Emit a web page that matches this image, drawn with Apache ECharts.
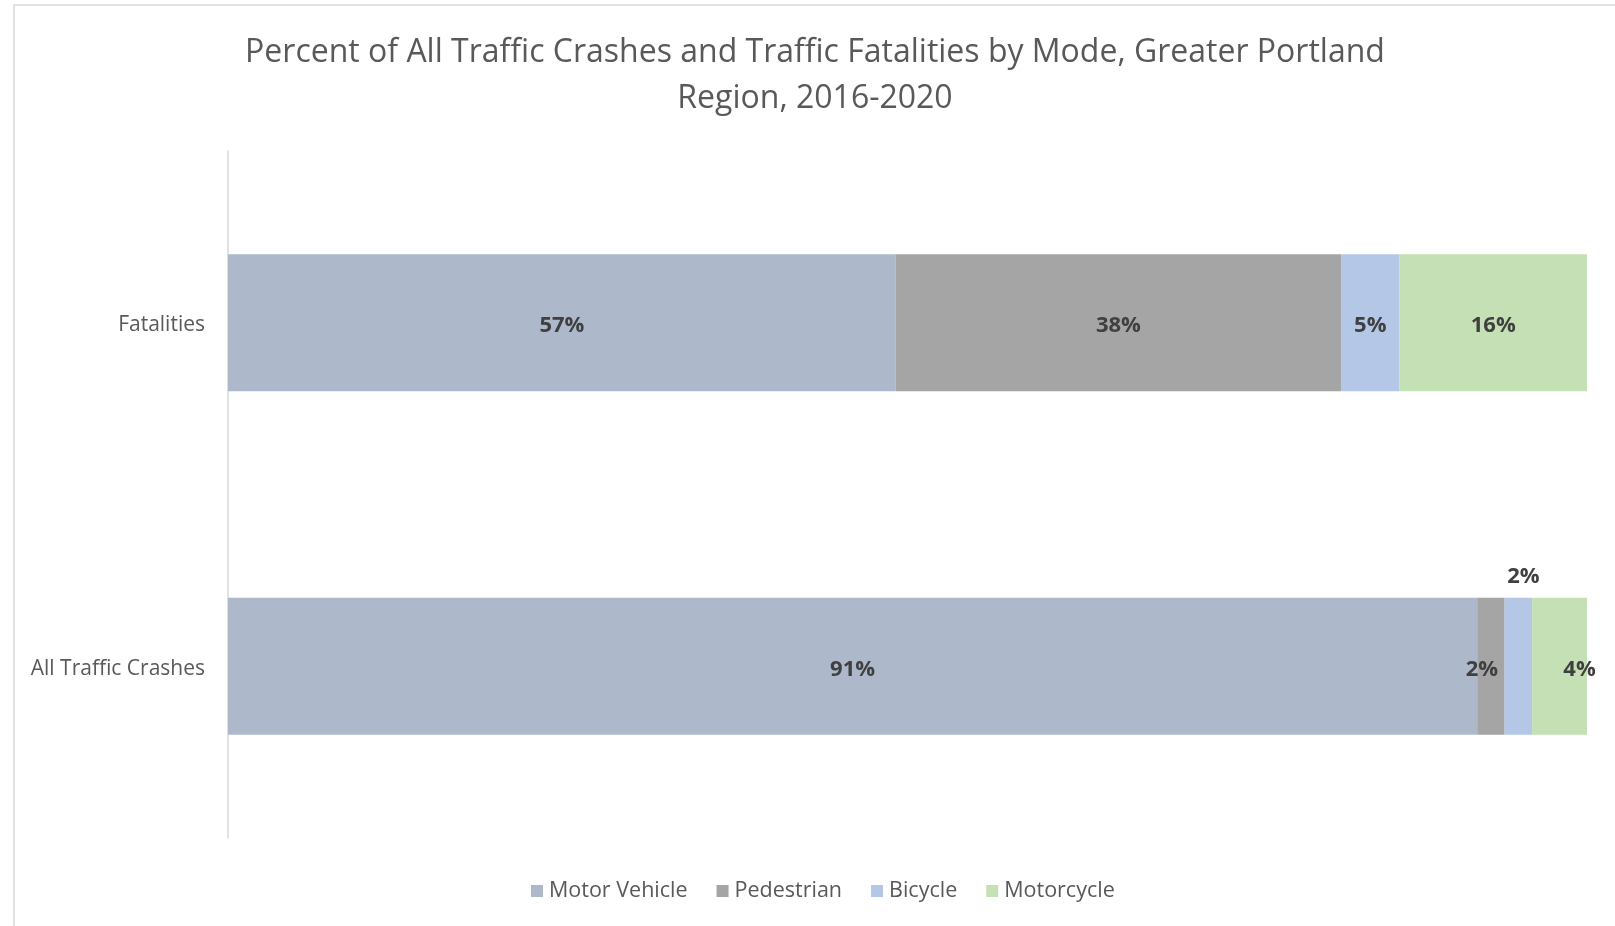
<!DOCTYPE html>
<html>
<head>
<meta charset="utf-8">
<script src="https://cdn.jsdelivr.net/npm/echarts@6/dist/echarts.min.js"></script>
<style>
  html, body { margin: 0; padding: 0; background: #fff; }
  #chart { width: 1615px; height: 926px; }
</style>
</head>
<body>
<div id="chart"></div>
<script>
// Share of crashes and fatalities by travel mode (percent values as reported)
const categories = ['All Traffic Crashes', 'Fatalities'];
const modes = ['Motor Vehicle', 'Pedestrian', 'Bicycle', 'Motorcycle'];
const motorVehicle = [91, 57];
const pedestrian = [2, 38];
const bicycle = [2, 5];
const motorcycle = [4, 16];

const modeValues = [motorVehicle, pedestrian, bicycle, motorcycle];
const modeColors = ['#adb9ca', '#a5a5a5', '#b4c7e7', '#c5e0b4'];

// each bar is stretched to the full width (100% stacked)
const totals = categories.map((_, i) => modeValues.reduce((s, arr) => s + arr[i], 0));

// hand-placed labels on the crowded crash bar
const labelOffsets = {
  'Pedestrian': [-9, 3],
  'Bicycle': [5, -90],
  'Motorcycle': [20, 3]
};

const FONT = '"Open Sans", "Liberation Sans", sans-serif';

const series = modes.map((name, m) => ({
  name: name,
  type: 'bar',
  stack: 'total',
  barWidth: 137,
  itemStyle: { color: modeColors[m] },
  label: {
    show: true,
    position: 'inside',
    offset: [0, 3],
    color: '#404040',
    fontFamily: FONT,
    fontWeight: 'bold',
    fontSize: 22,
    formatter: p => p.data.raw + '%'
  },
  emphasis: { disabled: true },
  data: categories.map((c, i) => {
    const item = { value: modeValues[m][i] / totals[i] * 100, raw: modeValues[m][i] };
    if (c === 'All Traffic Crashes' && labelOffsets[name]) {
      item.label = { offset: labelOffsets[name] };
    }
    return item;
  })
}));

const chart = echarts.init(document.getElementById('chart'), null, { renderer: 'canvas' });
chart.setOption({
  animation: false,
  backgroundColor: '#ffffff',
  grid: { left: 228, right: 28, top: 151, bottom: 88, containLabel: false },
  xAxis: {
    type: 'value',
    min: 0,
    max: 100,
    show: false
  },
  yAxis: {
    type: 'category',
    data: categories,
    axisLine: { show: true, lineStyle: { color: '#d9d9d9', width: 1.5 } },
    axisTick: { show: false },
    axisLabel: {
      color: '#595959',
      fontFamily: FONT,
      fontSize: 21,
      margin: 23,
      formatter: v => '{c|' + v + '}',
      rich: { c: { color: '#595959', fontFamily: FONT, fontSize: 21, padding: [5, 0, 0, 0] } }
    }
  },
  legend: {
    data: modes,
    bottom: 19,
    left: 526,
    itemWidth: 12,
    itemHeight: 12,
    itemGap: 29,
    icon: 'rect',
    textStyle: { color: '#595959', fontFamily: FONT, fontSize: 21.5, padding: [0, 0, 0, 1] }
  },
  graphic: [
    {
      type: 'rect',
      silent: true,
      shape: { x: 14, y: 5, width: 1700, height: 1000 },
      style: { fill: 'none', stroke: '#d9d9d9', lineWidth: 1.5 }
    },
    {
      type: 'text',
      silent: true,
      x: 815,
      y: 30,
      style: {
        text: 'Percent of All Traffic Crashes and Traffic Fatalities by Mode, Greater Portland\nRegion, 2016-2020',
        textAlign: 'center',
        fill: '#595959',
        fontFamily: FONT,
        fontSize: 32,
        lineHeight: 46
      }
    }
  ],
  series: series
});
</script>
</body>
</html>
